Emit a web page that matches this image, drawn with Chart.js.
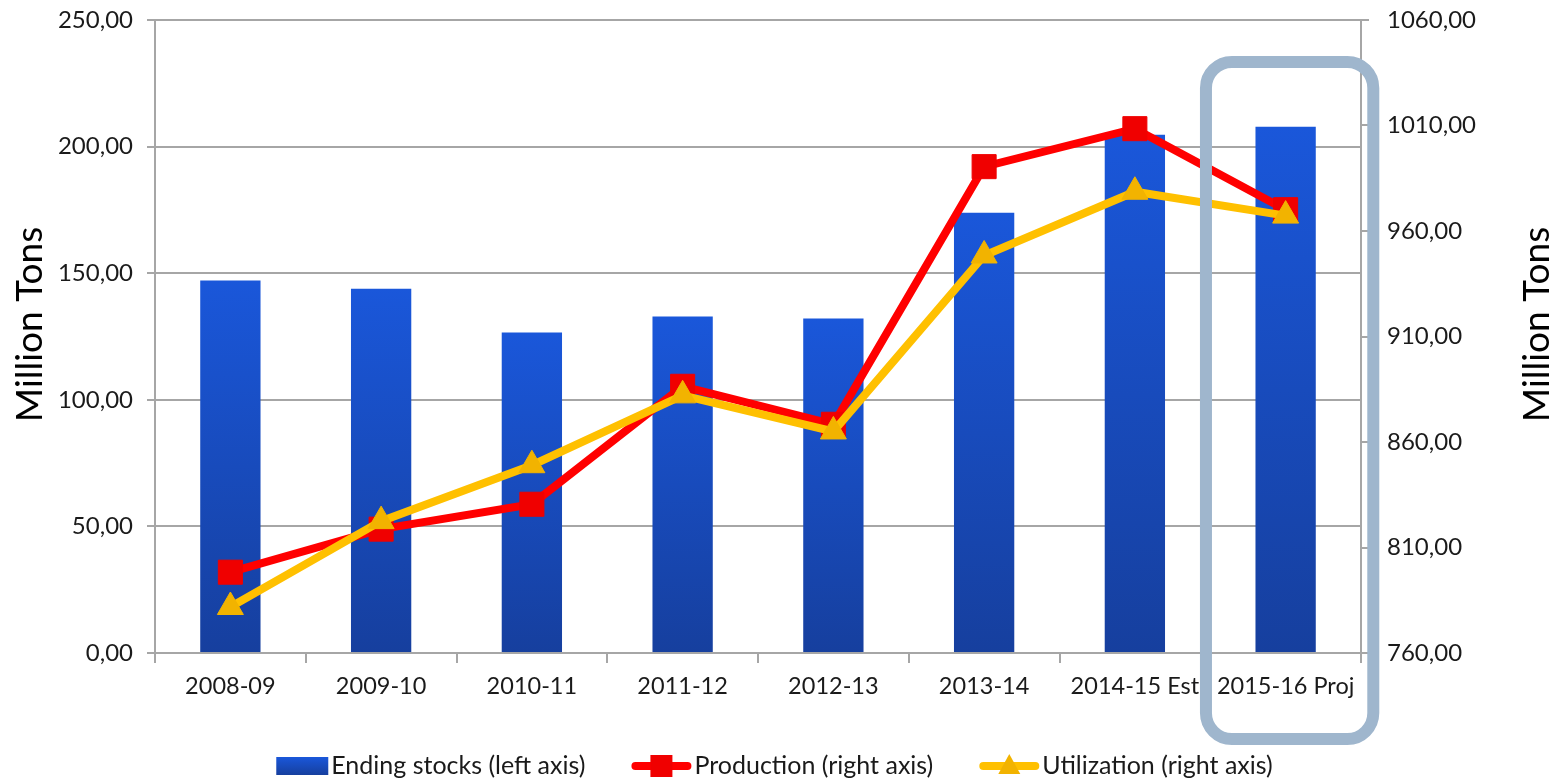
<!DOCTYPE html>
<html>
<head>
<meta charset="utf-8">
<title>Ending stocks, production and utilization</title>
<script src="https://cdn.jsdelivr.net/npm/chart.js@4.4.0/dist/chart.umd.min.js"></script>
<style>
  html, body { margin: 0; padding: 0; background: #fff; }
  #wrap { width: 1557px; height: 779px; }
</style>
</head>
<body>
<div id="wrap"><canvas id="myChart" width="1557" height="779"></canvas></div>
<script>
var seasons = ["2008-09", "2009-10", "2010-11", "2011-12", "2012-13", "2013-14", "2014-15 Est", "2015-16 Proj"]
var endingStocks = [147.1, 143.9, 126.6, 132.9, 132.1, 173.9, 204.7, 207.8]
var production = [798.3, 818.7, 830.5, 886.4, 868.4, 990.5, 1008.5, 970.1]
var utilization = [781.8, 822.5, 849.0, 882.1, 865.0, 948.4, 978.6, 967.3]
var leftTicks = [0, 50, 100, 150, 200, 250]
var rightTicks = [760, 810, 860, 910, 960, 1010, 1060]
var axisTitle = "Million Tons"

var FONT = "Lato, 'Open Sans', sans-serif"
var GRID = "#a6a6a6"
var TEXT = "#1a1a1a"

function fmt(v) {
  return v.toFixed(2).replace(".", ",")
}

// each bar gets its own top-to-bottom gradient
function barFill(c) {
  var chart = c.chart, area = chart.chartArea
  if (!area || c.raw == null || !chart.scales.y) return "#1a4fc8"
  var top = chart.scales.y.getPixelForValue(c.raw)
  var g = chart.ctx.createLinearGradient(0, top, 0, area.bottom)
  g.addColorStop(0, "#1a57da")
  g.addColorStop(1, "#163f9e")
  return g
}

var extras = {
  id: "extras",
  afterDatasetsDraw: function (chart) {
    // rounded frame round the projected season
    var ctx = chart.ctx, area = chart.chartArea, x = chart.scales.x
    var step = (area.right - area.left) / seasons.length
    var cx = x.getPixelForValue(seasons.length - 1) + 4
    var hw = step * 0.555
    var top = area.top + 42, bottom = area.bottom + 86
    ctx.save()
    ctx.strokeStyle = "#9fb6cd"
    ctx.lineWidth = 12
    ctx.beginPath()
    ctx.roundRect(cx - hw, top, hw * 2, bottom - top, 26)
    ctx.stroke()
    ctx.restore()
  },
  afterDraw: function (chart) {
    var ctx = chart.ctx, area = chart.chartArea
    var midY = (area.top + area.bottom) / 2 - 12
    ctx.save()
    ctx.fillStyle = "#000"
    ctx.font = "37px " + FONT
    ctx.textAlign = "center"
    ctx.textBaseline = "middle"
    ;[30, 1537].forEach(function (tx) {
      ctx.save()
      ctx.translate(tx, midY)
      ctx.rotate(-Math.PI / 2)
      ctx.fillText(axisTitle, 0, 0)
      ctx.restore()
    })

    // legend
    var items = chart.data.datasets
    ctx.font = "25px " + FONT
    var gapText = 3, gapItem = 46
    var syms = items.map(function (d) { return d.type === "bar" ? 52 : 60 })
    var widths = items.map(function (d, i) { return syms[i] + gapText + ctx.measureText(d.label).width })
    var total = widths.reduce(function (a, b) { return a + b }, 0) + gapItem * (items.length - 1)
    var lx = chart.width / 2 - total / 2 - 4
    var ly = 766
    items.forEach(function (d, i) {
      var sym = syms[i]
      if (d.type === "bar") {
        var g = ctx.createLinearGradient(0, ly - 9, 0, ly + 9)
        g.addColorStop(0, "#1a57da")
        g.addColorStop(1, "#163f9e")
        ctx.fillStyle = g
        ctx.fillRect(lx, ly - 9, sym, 18)
      } else {
        ctx.strokeStyle = d.borderColor
        ctx.lineWidth = 8
        ctx.lineCap = "round"
        ctx.beginPath()
        ctx.moveTo(lx + 4, ly)
        ctx.lineTo(lx + sym - 4, ly)
        ctx.stroke()
        ctx.fillStyle = d.pointBackgroundColor
        var mx = lx + sym / 2
        if (d.pointStyle === "rect") {
          ctx.fillRect(mx - 11, ly - 11, 22, 22)
        } else {
          ctx.beginPath()
          ctx.moveTo(mx, ly - 12)
          ctx.lineTo(mx + 11, ly + 8)
          ctx.lineTo(mx - 11, ly + 8)
          ctx.closePath()
          ctx.fill()
        }
      }
      ctx.fillStyle = TEXT
      ctx.textAlign = "left"
      ctx.textBaseline = "middle"
      ctx.fillText(d.label, lx + sym + gapText, ly)
      lx += widths[i] + gapItem
    })
    ctx.restore()
  }
}

function fixWidth(w) {
  return function (s) {
    s.width = w
    s.paddingTop = 0
    s.paddingBottom = 0
  }
}

var myChart = document.getElementById("myChart").getContext("2d")

var chart = new Chart(myChart, {
  data: {
    labels: seasons,
    datasets: [
      {
        type: "bar",
        label: "Ending stocks (left axis)",
        data: endingStocks,
        yAxisID: "y",
        backgroundColor: barFill,
        barPercentage: 0.4,
        categoryPercentage: 1,
        order: 3
      },
      {
        type: "line",
        label: "Production (right axis)",
        data: production,
        yAxisID: "y1",
        borderColor: "#ff0000",
        borderWidth: 8,
        pointStyle: "rect",
        pointRadius: 17,
        pointBackgroundColor: "#f00000",
        pointBorderColor: "#f00000",
        pointBorderWidth: 1,
        tension: 0,
        order: 2
      },
      {
        type: "line",
        label: "Utilization (right axis)",
        data: utilization,
        yAxisID: "y1",
        borderColor: "#ffc000",
        borderWidth: 8,
        pointStyle: "triangle",
        pointRadius: 15,
        pointBackgroundColor: "#f2b300",
        pointBorderColor: "#f2b300",
        pointBorderWidth: 1,
        tension: 0,
        order: 1
      }
    ]
  },
  options: {
    responsive: false,
    animation: false,
    devicePixelRatio: 1,
    layout: { padding: { top: 20, left: 0, right: 0, bottom: 0 } },
    plugins: {
      legend: { display: false },
      tooltip: { enabled: false }
    },
    scales: {
      x: {
        offset: true,
        grid: { offset: true, drawOnChartArea: false, drawTicks: true, tickLength: 10, color: GRID, lineWidth: 2 },
        border: { display: true, color: GRID, width: 2 },
        ticks: { color: TEXT, font: { family: FONT, size: 23.5 }, padding: 9, maxRotation: 0, autoSkip: false },
        afterFit: function (s) { s.height = 126 }
      },
      y: {
        position: "left",
        min: leftTicks[0],
        max: leftTicks[leftTicks.length - 1],
        afterBuildTicks: function (s) { s.ticks = leftTicks.map(function (v) { return { value: v } }) },
        grid: { color: GRID, lineWidth: 2, tickLength: 8 },
        border: { display: true, color: GRID, width: 2 },
        ticks: { color: TEXT, font: { family: FONT, size: 24 }, padding: 14, callback: function (v) { return fmt(v) } },
        afterFit: fixWidth(155)
      },
      y1: {
        position: "right",
        min: rightTicks[0],
        max: rightTicks[rightTicks.length - 1],
        afterBuildTicks: function (s) { s.ticks = rightTicks.map(function (v) { return { value: v } }) },
        grid: { drawOnChartArea: false, color: GRID, lineWidth: 2, tickLength: 8 },
        border: { display: true, color: GRID, width: 2 },
        ticks: { color: TEXT, font: { family: FONT, size: 24 }, padding: 18, callback: function (v) { return fmt(v) } },
        afterFit: fixWidth(196)
      }
    }
  },
  plugins: [extras]
})
</script>
</body>
</html>
